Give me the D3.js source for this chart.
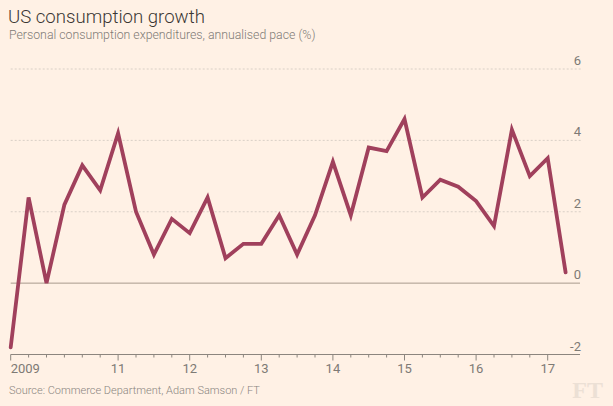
<!DOCTYPE html>
<html>
<head>
<meta charset="utf-8">
<script src="https://cdn.jsdelivr.net/npm/d3@7"></script>
<style>
html,body{margin:0;padding:0;background:#fff1e5;}
svg{display:block;}
</style>
</head>
<body>
<svg id="chart" width="613" height="406"></svg>
<script>
// Quarterly data, 2009 Q2 to 2017 Q1
const quarters = ["2009Q2","2009Q3","2009Q4","2010Q1","2010Q2","2010Q3","2010Q4","2011Q1","2011Q2","2011Q3","2011Q4","2012Q1","2012Q2","2012Q3","2012Q4","2013Q1","2013Q2","2013Q3","2013Q4","2014Q1","2014Q2","2014Q3","2014Q4","2015Q1","2015Q2","2015Q3","2015Q4","2016Q1","2016Q2","2016Q3","2016Q4","2017Q1"];
const growth = [-1.8,2.4,0.0,2.2,3.3,2.6,4.2,2.0,0.8,1.8,1.4,2.4,0.7,1.1,1.1,1.9,0.8,1.9,3.4,1.9,3.8,3.7,4.6,2.4,2.9,2.7,2.3,1.6,4.3,3.0,3.5,0.3];
const yTicks = [-2,0,2,4,6];
const xTickIdx = [0,6,10,14,18,22,26,30];
const xTickLabels = ["2009","11","12","13","14","15","16","17"];

const svg = d3.select("#chart");
const mLeft = 10.7, mRight = 580, mTop = 69, mBottom = 354.5;
const x = d3.scaleLinear().domain([0,31]).range([mLeft, mLeft + 31*17.9]);
const y = d3.scaleLinear().domain([-2,6]).range([mBottom, mTop]);

// gridlines
svg.append("g").selectAll("line").data(yTicks.filter(d=>d>0)).join("line")
  .attr("x1", mLeft).attr("x2", mRight+2)
  .attr("y1", d=>y(d)).attr("y2", d=>y(d))
  .attr("stroke", "#d9cfc6").attr("stroke-width", 1).attr("stroke-dasharray","2,2");
// zero line
svg.append("line").attr("x1", mLeft).attr("x2", mRight)
  .attr("y1", y(0)).attr("y2", y(0)).attr("stroke", "#a8998c").attr("stroke-width", 1);

// y labels
svg.append("g").selectAll("text").data(yTicks).join("text")
  .attr("x", mRight+1).attr("y", d=>y(d)-4)
  .attr("text-anchor","end")
  .attr("font-family","Roboto, 'Open Sans', sans-serif").attr("font-size", 13)
  .attr("fill","#7e7a75").text(d=>d);

// x axis
svg.append("line").attr("x1", mLeft).attr("x2", mRight)
  .attr("y1", mBottom).attr("y2", mBottom).attr("stroke","#8c857e").attr("stroke-width",1);
const allIdx = d3.range(0,31);
svg.append("g").selectAll("line").data(allIdx).join("line")
  .attr("x1", d=>x(d)).attr("x2", d=>x(d))
  .attr("y1", mBottom).attr("y2", d=> xTickIdx.includes(d) ? mBottom+6 : mBottom+3)
  .attr("stroke","#8c857e").attr("stroke-width",1);
svg.append("g").selectAll("text").data(xTickIdx).join("text")
  .attr("x", d=>x(d)).attr("y", 373)
  .attr("text-anchor", (d,i)=> i===0 ? "start" : "middle")
  .attr("font-family","Roboto, 'Open Sans', sans-serif").attr("font-size", 13)
  .attr("fill","#7e7a75").text((d,i)=>xTickLabels[i]);

// line
const line = d3.line().x((d,i)=>x(i)).y(d=>y(d));
svg.append("path").datum(growth).attr("d", line)
  .attr("fill","none").attr("stroke","#a0405c").attr("stroke-width",3.8)
  .attr("stroke-linejoin","miter").attr("stroke-linecap","round");

// title, subtitle
svg.append("text").attr("x",8).attr("y",23)
  .attr("font-family","Roboto, sans-serif").attr("font-weight",300).attr("font-size",18.6)
  .attr("fill","#3a3633").text("US consumption growth");
svg.append("text").attr("x",9).attr("y",39)
  .attr("font-family","Roboto, sans-serif").attr("font-weight",300).attr("font-size",12.3)
  .attr("fill","#7e7a75").text("Personal consumption expenditures, annualised pace (%)");
// source
svg.append("text").attr("x",9).attr("y",394)
  .attr("font-family","Roboto, sans-serif").attr("font-weight",300).attr("font-size",11)
  .attr("fill","#8a8580").text("Source: Commerce Department, Adam Samson / FT");
// FT logo
svg.append("text").attr("x",603).attr("y",398).attr("text-anchor","end")
  .attr("font-family","'Liberation Serif', 'DejaVu Serif', serif").attr("font-weight","bold").attr("font-size",24)
  .attr("fill","#ece0d5").text("FT");
</script>
</body>
</html>
